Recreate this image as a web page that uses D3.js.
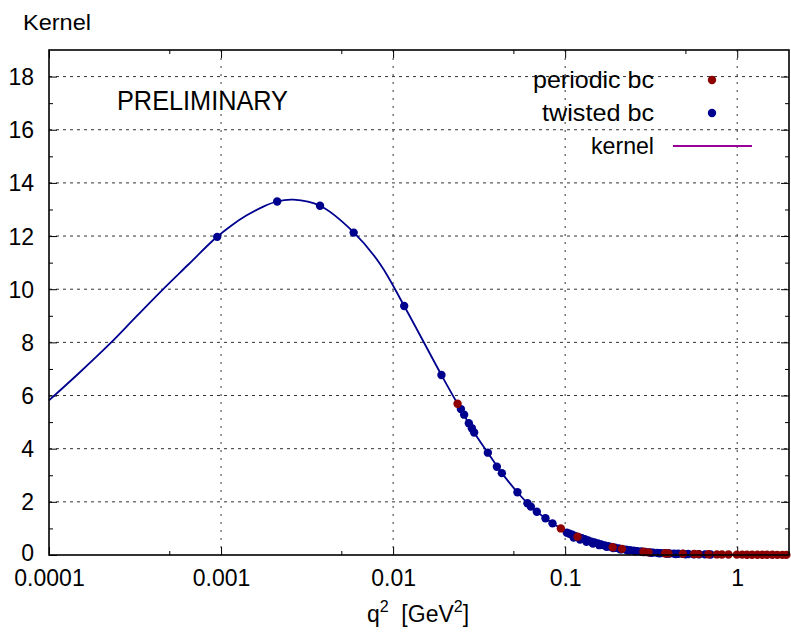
<!DOCTYPE html>
<html>
<head>
<meta charset="utf-8">
<script src="https://cdn.jsdelivr.net/npm/d3@7"></script>
<style>
  html, body { margin: 0; padding: 0; background: #fff; }
  svg { display: block; font-family: "Liberation Sans", "DejaVu Sans", sans-serif; }
</style>
</head>
<body>
<svg id="chart" width="791" height="632"></svg>
<script>
// ---- data ----
const kernelQ2  = [1e-4, 1.48e-4, 2.26e-4, 3.16e-4, 4.52e-4, 6.46e-4, 9.2e-4, 1.15e-3, 1.41e-3, 1.75e-3, 2.11e-3, 2.63e-3, 3.76e-3, 5.88e-3, 8.4e-3, 0.0116, 0.0191, 0.0237, 0.0296, 0.0355, 0.0429, 0.0528, 0.0632, 0.0768, 0.0944, 0.118, 0.150, 0.189, 0.214, 0.285, 0.381, 0.50, 0.70, 1.0, 2.0];
const kernelVal = [5.82, 6.82, 7.95, 8.92, 9.95, 10.93, 11.9, 12.4, 12.78, 13.1, 13.30, 13.37, 13.14, 12.15, 10.95, 9.37, 6.77, 5.69, 4.61, 3.85, 3.08, 2.36, 1.82, 1.38, 1.0, 0.69, 0.45, 0.29, 0.23, 0.12, 0.068, 0.04, 0.02, 0.01, 0.003];

const twistedQ2  = [9.5e-4, 2.12e-3, 3.76e-3, 5.9e-3, 0.0116, 0.0191, 0.02477, 0.02588, 0.02755, 0.02869, 0.02958, 0.03554, 0.0401, 0.04287, 0.05281, 0.06036, 0.0632, 0.06845, 0.07682, 0.08441, 0.1023,
  0.106, 0.110, 0.114, 0.120, 0.125, 0.130, 0.136, 0.142, 0.148, 0.155, 0.162, 0.170, 0.178, 0.186, 0.195, 0.205, 0.215, 0.226, 0.238, 0.250, 0.263, 0.277, 0.292, 0.308, 0.325, 0.343, 0.362, 0.382, 0.404, 0.428, 0.455, 0.485, 0.520, 0.560, 0.600, 0.650, 0.700,
  0.112, 0.122, 0.133, 0.145, 0.158, 0.174, 0.190, 0.210, 0.232, 0.256, 0.284, 0.316, 0.352, 0.392, 0.440, 0.500];
const twistedVal = [11.97, 13.30, 13.14, 12.13, 9.37, 6.77, 5.49, 5.28, 4.96, 4.77, 4.61, 3.85, 3.32, 3.08, 2.36, 1.95, 1.82, 1.63, 1.38, 1.19, 0.84,
  0.80, 0.76, 0.72, 0.67, 0.63, 0.59, 0.55, 0.50, 0.47, 0.43, 0.40, 0.36, 0.33, 0.30, 0.27, 0.25, 0.22, 0.20, 0.18, 0.16, 0.145, 0.13, 0.115, 0.10, 0.09, 0.08, 0.072, 0.065, 0.058, 0.052, 0.046, 0.041, 0.036, 0.031, 0.027, 0.023, 0.020,
  0.66, 0.58, 0.50, 0.43, 0.37, 0.31, 0.26, 0.21, 0.17, 0.14, 0.11, 0.085, 0.065, 0.05, 0.035, 0.025];

const periodicQ2  = [0.0237, 0.0944, 0.118, 0.189, 0.214, 0.285, 0.305, 0.381, 0.398, 0.483, 0.562, 0.595, 0.681, 0.762, 0.815, 0.890, 0.995, 1.07, 1.14, 1.22, 1.31, 1.40, 1.49, 1.60, 1.71, 1.83, 1.93];
const periodicVal = [5.69, 1.0, 0.69, 0.29, 0.23, 0.12, 0.10, 0.065, 0.06, 0.045, 0.036, 0.033, 0.027, 0.022, 0.02, 0.017, 0.014, 0.013, 0.012, 0.011, 0.01, 0.009, 0.008, 0.007, 0.006, 0.005, 0.004];

const xMajorTicks = [1e-4, 1e-3, 1e-2, 1e-1, 1];
const xTickLabels = ["0.0001", "0.001", "0.01", "0.1", "1"];
const xMinorTicks = [5e-4, 5e-3, 5e-2, 5e-1];
const yMajorTicks = [0, 2, 4, 6, 8, 10, 12, 14, 16, 18];
const yMinorTicks = [1, 3, 5, 7, 9, 11, 13, 15, 17];

const legendLabels = ["periodic bc", "twisted bc", "kernel"];

// ---- layout ----
const L = 49, R = 789, T = 50, B = 555;
const svg = d3.select("#chart");
const x = d3.scaleLog().domain([1e-4, 2]).range([L, R]);
const y = d3.scaleLinear().domain([0, 19]).range([B, T]);

const COL_BLUE = "#00008f";
const COL_RED = "#8f0000";
const COL_PURPLE = "#990099";
const FONT = "Liberation Sans, DejaVu Sans, sans-serif";

// grid
const grid = svg.append("g");
grid.selectAll("line.hg").data(yMajorTicks.filter(d => d > 0)).join("line")
  .attr("x1", L).attr("x2", R).attr("y1", d => y(d)).attr("y2", d => y(d))
  .attr("stroke", "#333").attr("stroke-width", 1).attr("stroke-dasharray", "3,4");
grid.selectAll("line.vg").data(xMajorTicks.filter(d => d > 1e-4)).join("line")
  .attr("x1", d => x(d)).attr("x2", d => x(d)).attr("y1", T).attr("y2", B)
  .attr("stroke", "#333").attr("stroke-width", 1).attr("stroke-dasharray", "2,6");

// axes
const fs = 23;
const xAxis = d3.axisBottom(x).tickValues(xMajorTicks).tickFormat((d, i) => xTickLabels[i])
  .tickSizeInner(-8).tickSizeOuter(0);
const gx = svg.append("g").attr("transform", `translate(0,${B})`).call(xAxis);
gx.select(".domain").remove();
gx.selectAll("text").attr("font-size", fs).attr("fill", "#000").attr("font-family", FONT).attr("dy", null).attr("y", 31);
gx.selectAll("line").attr("stroke", "#000");

const xMinor = d3.axisBottom(x).tickValues(xMinorTicks).tickFormat("").tickSizeInner(-4).tickSizeOuter(0);
svg.append("g").attr("transform", `translate(0,${B})`).call(xMinor).select(".domain").remove();
const xTop = d3.axisTop(x).tickValues(xMajorTicks).tickFormat("").tickSizeInner(-8).tickSizeOuter(0);
svg.append("g").attr("transform", `translate(0,${T})`).call(xTop).select(".domain").remove();
const xTopMinor = d3.axisTop(x).tickValues(xMinorTicks).tickFormat("").tickSizeInner(-4).tickSizeOuter(0);
svg.append("g").attr("transform", `translate(0,${T})`).call(xTopMinor).select(".domain").remove();

const yAxis = d3.axisLeft(y).tickValues(yMajorTicks).tickFormat(d3.format("d"))
  .tickSizeInner(-8).tickSizeOuter(0);
const gy = svg.append("g").attr("transform", `translate(${L},0)`).call(yAxis);
gy.select(".domain").remove();
gy.selectAll("text").attr("font-size", fs).attr("fill", "#000").attr("font-family", FONT).attr("x", -15)
  .attr("dy", (d) => d === 0 ? "0.25em" : "0.35em");
gy.selectAll("line").attr("stroke", "#000");
const yMinor = d3.axisLeft(y).tickValues(yMinorTicks).tickFormat("").tickSizeInner(-4).tickSizeOuter(0);
svg.append("g").attr("transform", `translate(${L},0)`).call(yMinor).select(".domain").remove();
const yRight = d3.axisRight(y).tickValues(yMajorTicks).tickFormat("").tickSizeInner(-8).tickSizeOuter(0);
svg.append("g").attr("transform", `translate(${R},0)`).call(yRight).select(".domain").remove();
const yRightMinor = d3.axisRight(y).tickValues(yMinorTicks).tickFormat("").tickSizeInner(-4).tickSizeOuter(0);
svg.append("g").attr("transform", `translate(${R},0)`).call(yRightMinor).select(".domain").remove();

// kernel curve
const kernelData = kernelQ2.map((q, i) => [q, kernelVal[i]]);
const line = d3.line().x(d => x(d[0])).y(d => y(d[1])).curve(d3.curveCatmullRom.alpha(0.5));
svg.append("path").datum(kernelData).attr("d", line)
  .attr("fill", "none").attr("stroke", COL_BLUE).attr("stroke-width", 1.8);

// points
const twisted = twistedQ2.map((q, i) => [q, twistedVal[i]]);
const periodic = periodicQ2.map((q, i) => [q, periodicVal[i]]);
const rr = 4.2;
svg.append("g").selectAll("circle").data(twisted).join("circle")
  .attr("cx", d => x(d[0])).attr("cy", d => y(d[1])).attr("r", rr).attr("fill", COL_BLUE);
svg.append("g").selectAll("circle").data(periodic).join("circle")
  .attr("cx", d => x(d[0])).attr("cy", d => y(d[1])).attr("r", rr).attr("fill", COL_RED);

// frame
svg.append("rect").attr("x", L).attr("y", T).attr("width", R - L).attr("height", B - T)
  .attr("fill", "none").attr("stroke", "#000").attr("stroke-width", 1.6);

// legend
const leg = svg.append("g");
const legY = [80, 113, 146];
const legW = [121, 112, 63];
leg.selectAll("text").data(legendLabels).join("text")
  .attr("x", 654).attr("y", (d, i) => legY[i]).attr("dy", "0.35em")
  .attr("text-anchor", "end").attr("font-size", 24).attr("fill", "#000")
  .attr("textLength", (d, i) => legW[i]).attr("lengthAdjust", "spacingAndGlyphs").text(d => d);
leg.append("circle").attr("cx", 712).attr("cy", legY[0]).attr("r", rr).attr("fill", COL_RED);
leg.append("circle").attr("cx", 712).attr("cy", legY[1]).attr("r", rr).attr("fill", COL_BLUE);
leg.append("line").attr("x1", 673).attr("x2", 752).attr("y1", legY[2]).attr("y2", legY[2])
  .attr("stroke", COL_PURPLE).attr("stroke-width", 1.8);

// texts
svg.append("text").attr("x", 23).attr("y", 30).attr("font-size", 22).attr("fill", "#000")
  .attr("textLength", 68).attr("lengthAdjust", "spacingAndGlyphs").text("Kernel");
svg.append("text").attr("x", 117).attr("y", 110).attr("font-size", 27).attr("fill", "#000")
  .attr("textLength", 171).attr("lengthAdjust", "spacingAndGlyphs").text("PRELIMINARY");
const xl = svg.append("text").attr("x", 418).attr("y", 622).attr("text-anchor", "middle")
  .attr("font-size", fs).attr("fill", "#000");
xl.append("tspan").text("q");
xl.append("tspan").attr("dy", -10).attr("font-size", 16).text("2");
xl.append("tspan").attr("dy", 10).text("\u00a0 [GeV");
xl.append("tspan").attr("dy", -10).attr("font-size", 16).text("2");
xl.append("tspan").attr("dy", 10).text("]");
</script>
</body>
</html>
